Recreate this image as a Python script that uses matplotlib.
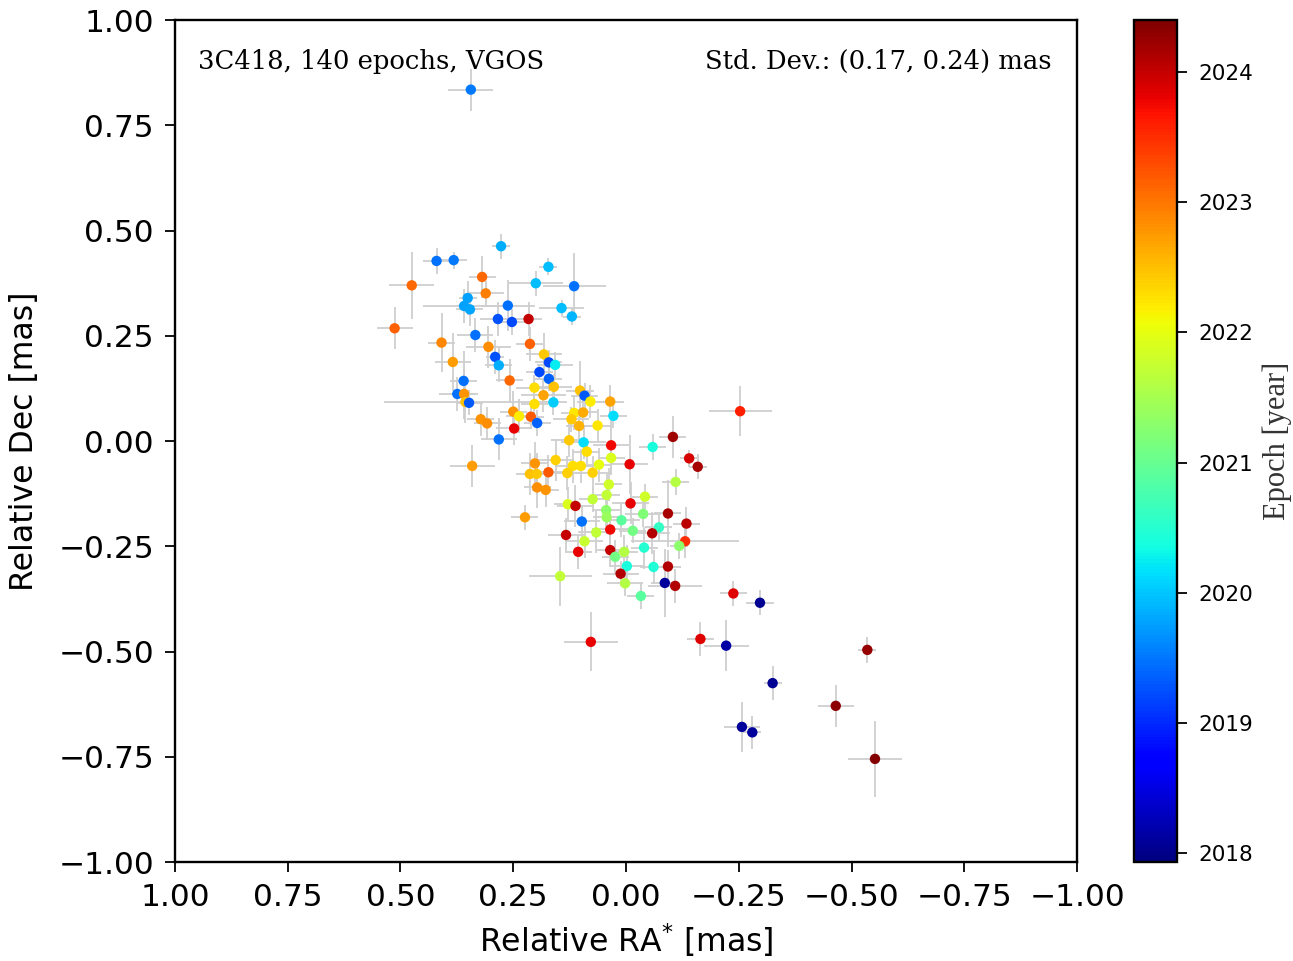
'''
3C418 relative positions (VGOS), coloured by epoch.
'''

import numpy as np
import matplotlib
matplotlib.use('Agg')
import matplotlib.pyplot as plt
from matplotlib.colors import Normalize

# Relative RA* [mas]
ra = [0.344, 0.277, 0.420, 0.382, 0.319, 0.475, 0.311, 0.200, 0.172, 0.115,
      0.351, 0.359, 0.346, 0.262, 0.284, 0.253, 0.216, 0.143, 0.120, 0.513,
      0.334, 0.409, 0.305, 0.213, 0.290, 0.282, 0.384, 0.182, 0.171, 0.157,
      0.192, 0.171, 0.360, 0.258, 0.203, 0.160, 0.183, 0.102, 0.092, 0.079,
      0.161, 0.035, 0.203, 0.374, 0.359, 0.356, 0.348, 0.250, 0.237, 0.211,
      0.197, 0.322, 0.308, 0.248, 0.282, 0.341, 0.202, 0.213, 0.198, 0.197,
      0.178, 0.224, 0.172, 0.115, 0.095, 0.121, 0.104, 0.063, 0.028, 0.126,
      0.094, 0.087, 0.033, -0.059, -0.104, -0.140, -0.159, 0.156, 0.118, 0.100,
      0.060, 0.033, -0.008, 0.130, 0.074, 0.038, -0.110, 0.043, 0.074, -0.042,
      -0.010, 0.129, 0.112, 0.044, 0.043, -0.038, -0.093, -0.134, 0.098, 0.010,
      0.035, -0.015, -0.073, -0.058, -0.131, 0.066, 0.133, 0.092, -0.118, -0.040,
      0.106, 0.035, 0.024, 0.004, -0.002, -0.061, -0.093, 0.012, 0.146, 0.002,
      -0.086, -0.109, -0.033, -0.238, -0.297, 0.078, -0.165, -0.222, -0.535, -0.325,
      -0.465, -0.257, -0.280, -0.552, -0.253]

# Relative Dec [mas]
dec = [0.835, 0.463, 0.428, 0.430, 0.390, 0.370, 0.351, 0.375, 0.414, 0.368,
       0.340, 0.321, 0.313, 0.322, 0.290, 0.283, 0.290, 0.316, 0.296, 0.268,
       0.252, 0.234, 0.224, 0.231, 0.200, 0.180, 0.188, 0.206, 0.187, 0.181,
       0.164, 0.148, 0.143, 0.144, 0.127, 0.129, 0.109, 0.120, 0.108, 0.094,
       0.092, 0.094, 0.088, 0.112, 0.112, 0.093, 0.091, 0.070, 0.059, 0.058,
       0.043, 0.052, 0.042, 0.030, 0.004, -0.059, -0.053, -0.078, -0.078, -0.110,
       -0.116, -0.181, -0.074, 0.067, 0.068, 0.052, 0.036, 0.037, 0.060, 0.002,
       -0.003, -0.025, -0.010, -0.014, 0.010, -0.041, -0.061, -0.045, -0.059, -0.059,
       -0.056, -0.040, -0.055, -0.076, -0.075, -0.103, -0.097, -0.128, -0.138, -0.132,
       -0.148, -0.150, -0.154, -0.164, -0.181, -0.173, -0.172, -0.196, -0.191, -0.188,
       -0.210, -0.213, -0.205, -0.219, -0.238, -0.217, -0.223, -0.238, -0.249, -0.253,
       -0.263, -0.259, -0.275, -0.263, -0.297, -0.299, -0.298, -0.315, -0.321, -0.338,
       -0.337, -0.344, -0.368, -0.362, -0.384, -0.477, -0.470, -0.486, -0.496, -0.575,
       -0.629, -0.679, -0.692, -0.755, 0.071]

# Epoch [year]
epoch = [2019.50, 2019.85, 2019.45, 2019.50, 2023.10, 2023.10, 2022.95, 2019.95, 2019.95, 2019.45,
         2019.75, 2019.75, 2019.80, 2019.45, 2019.25, 2019.20, 2024.00, 2019.95, 2019.90, 2023.15,
         2019.45, 2022.90, 2022.85, 2023.15, 2019.25, 2019.85, 2022.75, 2022.45, 2019.20, 2020.25,
         2019.20, 2019.35, 2019.45, 2023.10, 2022.30, 2022.50, 2022.70, 2022.50, 2019.30, 2022.20,
         2020.05, 2022.70, 2022.30, 2019.45, 2022.80, 2022.50, 2019.30, 2022.80, 2022.20, 2023.20,
         2019.35, 2022.80, 2022.85, 2023.80, 2019.45, 2022.75, 2022.80, 2022.50, 2022.45, 2022.85,
         2022.80, 2022.75, 2023.20, 2022.25, 2022.65, 2022.45, 2022.60, 2022.25, 2020.15, 2022.45,
         2020.15, 2022.30, 2023.75, 2020.40, 2024.20, 2023.90, 2024.15, 2022.40, 2022.30, 2022.30,
         2022.00, 2021.90, 2023.80, 2022.40, 2022.40, 2021.80, 2021.60, 2021.70, 2021.70, 2021.80,
         2023.80, 2021.90, 2024.00, 2021.30, 2021.40, 2021.20, 2024.15, 2024.05, 2019.45, 2020.90,
         2023.75, 2021.10, 2020.60, 2024.10, 2023.50, 2021.70, 2024.00, 2021.75, 2021.30, 2020.50,
         2023.80, 2024.00, 2021.10, 2021.60, 2020.40, 2020.45, 2024.10, 2024.10, 2021.70, 2021.60,
         2018.10, 2024.10, 2020.90, 2023.85, 2018.05, 2023.80, 2023.85, 2018.15, 2024.25, 2018.05,
         2024.30, 2018.10, 2018.10, 2024.35, 2023.60]

# formal errors [mas]
ra_err = [0.05, 0.02, 0.03, 0.03, 0.03, 0.05, 0.04, 0.06, 0.02, 0.07,
          0.02, 0.09, 0.03, 0.06, 0.04, 0.03, 0.03, 0.05, 0.02, 0.04,
          0.04, 0.03, 0.05, 0.03, 0.02, 0.03, 0.04, 0.04, 0.03, 0.04,
          0.03, 0.03, 0.03, 0.03, 0.04, 0.04, 0.05, 0.03, 0.03, 0.03,
          0.03, 0.03, 0.03, 0.04, 0.03, 0.18, 0.03, 0.03, 0.03, 0.03,
          0.03, 0.03, 0.03, 0.04, 0.04, 0.05, 0.03, 0.03, 0.03, 0.03,
          0.03, 0.03, 0.05, 0.03, 0.03, 0.04, 0.03, 0.03, 0.03, 0.04,
          0.05, 0.03, 0.04, 0.03, 0.03, 0.02, 0.02, 0.04, 0.04, 0.03,
          0.03, 0.03, 0.04, 0.03, 0.04, 0.03, 0.03, 0.03, 0.03, 0.03,
          0.04, 0.03, 0.04, 0.03, 0.03, 0.04, 0.03, 0.03, 0.04, 0.04,
          0.04, 0.03, 0.03, 0.04, 0.12, 0.04, 0.04, 0.04, 0.02, 0.03,
          0.03, 0.03, 0.03, 0.03, 0.04, 0.03, 0.03, 0.04, 0.07, 0.04,
          0.03, 0.06, 0.03, 0.03, 0.03, 0.06, 0.03, 0.05, 0.02, 0.02,
          0.04, 0.04, 0.02, 0.06, 0.07]

dec_err = [0.05, 0.03, 0.03, 0.02, 0.05, 0.08, 0.03, 0.03, 0.02, 0.08,
           0.04, 0.04, 0.04, 0.06, 0.04, 0.03, 0.04, 0.02, 0.02, 0.05,
           0.04, 0.07, 0.05, 0.04, 0.04, 0.04, 0.07, 0.05, 0.03, 0.03,
           0.02, 0.03, 0.07, 0.05, 0.03, 0.03, 0.04, 0.07, 0.03, 0.04,
           0.03, 0.04, 0.04, 0.04, 0.06, 0.05, 0.03, 0.05, 0.04, 0.03,
           0.03, 0.04, 0.04, 0.04, 0.05, 0.05, 0.05, 0.05, 0.05, 0.05,
           0.04, 0.03, 0.04, 0.04, 0.04, 0.03, 0.04, 0.04, 0.03, 0.04,
           0.04, 0.03, 0.06, 0.03, 0.05, 0.02, 0.03, 0.05, 0.04, 0.04,
           0.04, 0.04, 0.07, 0.04, 0.04, 0.04, 0.03, 0.05, 0.03, 0.03,
           0.05, 0.04, 0.05, 0.04, 0.04, 0.03, 0.08, 0.04, 0.04, 0.04,
           0.04, 0.03, 0.03, 0.05, 0.04, 0.05, 0.04, 0.04, 0.03, 0.05,
           0.04, 0.04, 0.04, 0.04, 0.05, 0.04, 0.04, 0.03, 0.07, 0.03,
           0.08, 0.04, 0.03, 0.03, 0.03, 0.07, 0.04, 0.06, 0.03, 0.04,
           0.05, 0.06, 0.04, 0.09, 0.06]

source = '3C418'
session = 'VGOS'
n_epochs = 140
std_ra, std_dec = 0.17, 0.24
epoch_range = (2017.93, 2024.40)
cbar_ticks = [2018, 2019, 2020, 2021, 2022, 2023, 2024]
axis_ticks = [-1.0, -0.75, -0.5, -0.25, 0.0, 0.25, 0.5, 0.75, 1.0]


def main():
    fig = plt.figure(figsize=(12.93, 9.61), dpi=100)
    ax = fig.add_axes([0.1353, 0.103, 0.6977, 0.876])
    cax = fig.add_axes([0.877, 0.103, 0.033, 0.876])

    # felstaplar först, punkterna ovanpå
    ax.errorbar(ra, dec, xerr=ra_err, yerr=dec_err, fmt='none',
                ecolor='#cfcfcf', elinewidth=1.3, zorder=1)
    norm = Normalize(vmin=epoch_range[0], vmax=epoch_range[1])
    sc = ax.scatter(ra, dec, c=epoch, cmap='jet', norm=norm, s=56,
                    edgecolors='none', zorder=2)

    ax.set_xlim(1.0, -1.0)
    ax.set_ylim(-1.0, 1.0)
    ax.set_xticks(axis_ticks)
    ax.set_yticks(axis_ticks)
    ax.tick_params(labelsize=22.5, length=7, width=1.3, pad=8)
    for s in ax.spines.values():
        s.set_linewidth(1.7)
    ax.set_xlabel(r'Relative RA$^{*}$ [mas]', fontsize=22.7, labelpad=7)
    ax.set_ylabel('Relative Dec [mas]', fontsize=22.7, labelpad=13)

    ax.text(0.0255, 0.951, f'{source}, {n_epochs} epochs, {session}',
            transform=ax.transAxes, family='DejaVu Serif', fontsize=18.6,
            ha='left', va='center')
    ax.text(0.972, 0.951, f'Std. Dev.: ({std_ra:.2f}, {std_dec:.2f}) mas',
            transform=ax.transAxes, family='DejaVu Serif', fontsize=18.6,
            ha='right', va='center')

    cb = fig.colorbar(sc, cax=cax, ticks=cbar_ticks)
    cb.outline.set_linewidth(1.7)
    cb.ax.tick_params(labelsize=15.5, length=7, width=1.3, pad=9)
    cb.set_label('Epoch [year]', family='Liberation Serif', fontsize=22,
                 color='#333333', labelpad=6)

    fig.savefig('out.png', dpi=100)


if __name__ == '__main__':
    main()
